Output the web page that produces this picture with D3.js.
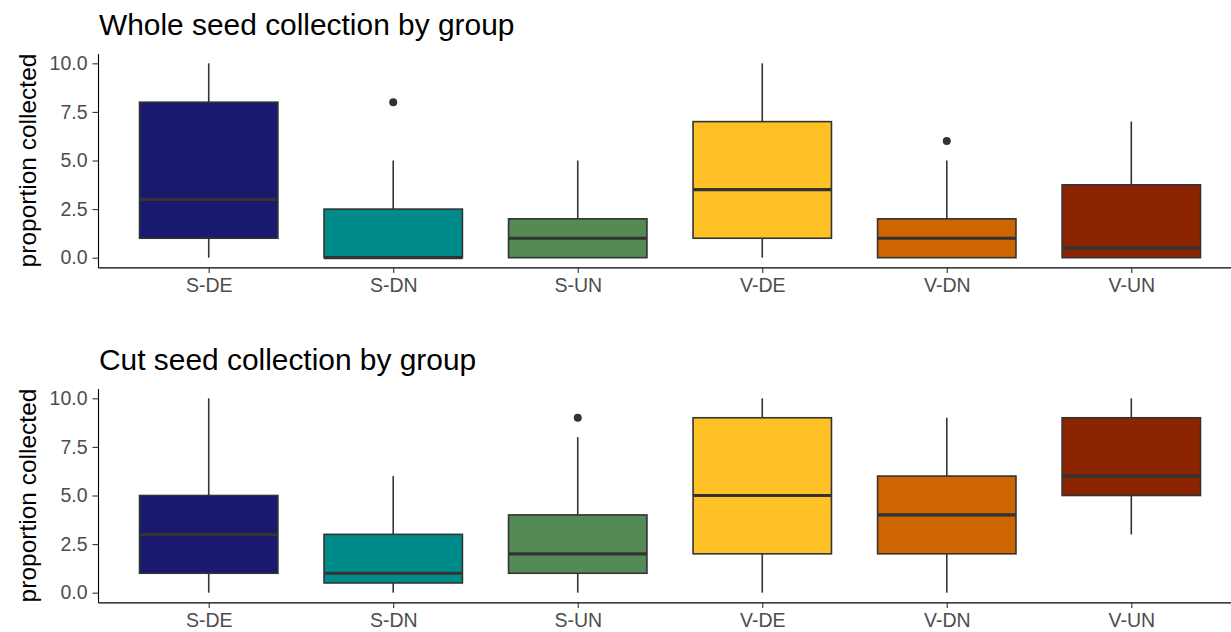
<!DOCTYPE html>
<html>
<head>
<meta charset="utf-8">
<script src="https://cdn.jsdelivr.net/npm/d3@7"></script>
<style>
  body { margin: 0; background: white; }
  svg { display: block; font-family: "Liberation Sans", Arial, sans-serif; }
</style>
</head>
<body>
<div id="chart"></div>
<script>
// groups and their fill colours
const categories = ["S-DE", "S-DN", "S-UN", "V-DE", "V-DN", "V-UN"]
const colors = ["#191970", "#008B8B", "#548B54", "#FFC125", "#CD6600", "#8B2500"]
const yTicks = [0, 2.5, 5, 7.5, 10]

// whole seed: whisker low, q1, median, q3, whisker high, outliers
const wholeLow = [0, 0, 0, 0, 0, 0]
const wholeQ1 = [1, 0, 0, 1, 0, 0]
const wholeMed = [3, 0, 1, 3.5, 1, 0.5]
const wholeQ3 = [8, 2.5, 2, 7, 2, 3.75]
const wholeHigh = [10, 5, 5, 10, 5, 7]
const wholeOut = [[], [8], [], [], [6], []]

// cut seed
const cutLow = [0, 0, 0, 0, 0, 3]
const cutQ1 = [1, 0.5, 1, 2, 2, 5]
const cutMed = [3, 1, 2, 5, 4, 6]
const cutQ3 = [5, 3, 4, 9, 6, 9]
const cutHigh = [10, 6, 8, 10, 9, 10]
const cutOut = [[], [], [9], [], [], []]

const width = 1231, height = 632
const left = 98
const panelH = 213.8

const panels = [
  { title: "Whole seed collection by group", top: 53.6, titleY: 34.5,
    low: wholeLow, q1: wholeQ1, med: wholeMed, q3: wholeQ3, high: wholeHigh, out: wholeOut },
  { title: "Cut seed collection by group", top: 388.6, titleY: 369.5,
    low: cutLow, q1: cutQ1, med: cutMed, q3: cutQ3, high: cutHigh, out: cutOut }
]

const svg = d3.select("#chart").append("svg")
  .attr("width", width)
  .attr("height", height)

// ggplot-like discrete expansion: 0.6 of a step on each side
const x = d3.scalePoint()
  .domain(categories)
  .range([left, 1242])
  .padding(0.6)
const boxW = x.step() * 0.75

const styleAxis = a => a
  .call(a => a.select(".domain").attr("stroke", "black").attr("stroke-width", 1.1))
  .call(a => a.selectAll(".tick line").attr("stroke", "#333333").attr("stroke-width", 1.1))
  .call(a => a.selectAll(".tick text").attr("fill", "#4d4d4d").attr("font-size", 19.5)
    .attr("font-family", "Liberation Sans, Arial, sans-serif"))

panels.forEach(p => {
  const y = d3.scaleLinear()
    .domain([-0.5, 10.5])
    .range([p.top + panelH, p.top])

  const rows = categories.map((c, i) => ({
    cat: c, color: colors[i], low: p.low[i], q1: p.q1[i], med: p.med[i],
    q3: p.q3[i], high: p.high[i], out: p.out[i]
  }))

  const g = svg.append("g")

  // whiskers
  g.append("g")
    .selectAll("line")
    .data(rows)
    .join("line")
    .attr("x1", d => x(d.cat))
    .attr("x2", d => x(d.cat))
    .attr("y1", d => y(d.low))
    .attr("y2", d => y(d.high))
    .attr("stroke", "#333333")
    .attr("stroke-width", 1.6)

  // boxes
  g.append("g")
    .selectAll("rect")
    .data(rows)
    .join("rect")
    .attr("x", d => x(d.cat) - boxW / 2)
    .attr("width", boxW)
    .attr("y", d => y(d.q3))
    .attr("height", d => y(d.q1) - y(d.q3))
    .attr("fill", d => d.color)
    .attr("stroke", "#333333")
    .attr("stroke-width", 1.6)

  // medians
  g.append("g")
    .selectAll("line")
    .data(rows)
    .join("line")
    .attr("x1", d => x(d.cat) - boxW / 2)
    .attr("x2", d => x(d.cat) + boxW / 2)
    .attr("y1", d => y(d.med))
    .attr("y2", d => y(d.med))
    .attr("stroke", "#333333")
    .attr("stroke-width", 3.2)

  // outliers
  g.append("g")
    .selectAll("circle")
    .data(rows.flatMap(d => d.out.map(v => ({ cat: d.cat, v }))))
    .join("circle")
    .attr("cx", d => x(d.cat))
    .attr("cy", d => y(d.v))
    .attr("r", 4)
    .attr("fill", "#333333")

  // axes
  g.append("g")
    .attr("transform", `translate(${left},0)`)
    .call(d3.axisLeft(y).tickValues(yTicks).tickFormat(d3.format(".1f"))
      .tickSize(5.5).tickSizeOuter(0).tickPadding(5))
    .call(styleAxis)

  g.append("g")
    .attr("transform", `translate(0,${p.top + panelH})`)
    .call(d3.axisBottom(x).tickSize(5.5).tickSizeOuter(0).tickPadding(5))
    .call(styleAxis)

  // y axis title
  g.append("text")
    .attr("transform", `translate(36,${p.top + panelH / 2}) rotate(-90)`)
    .attr("text-anchor", "middle")
    .attr("font-size", 24.5)
    .attr("fill", "black")
    .text("proportion collected")

  // panel title
  g.append("text")
    .attr("x", left + 1)
    .attr("y", p.titleY)
    .attr("font-size", 29.9)
    .attr("fill", "black")
    .text(p.title)
})
</script>
</body>
</html>
